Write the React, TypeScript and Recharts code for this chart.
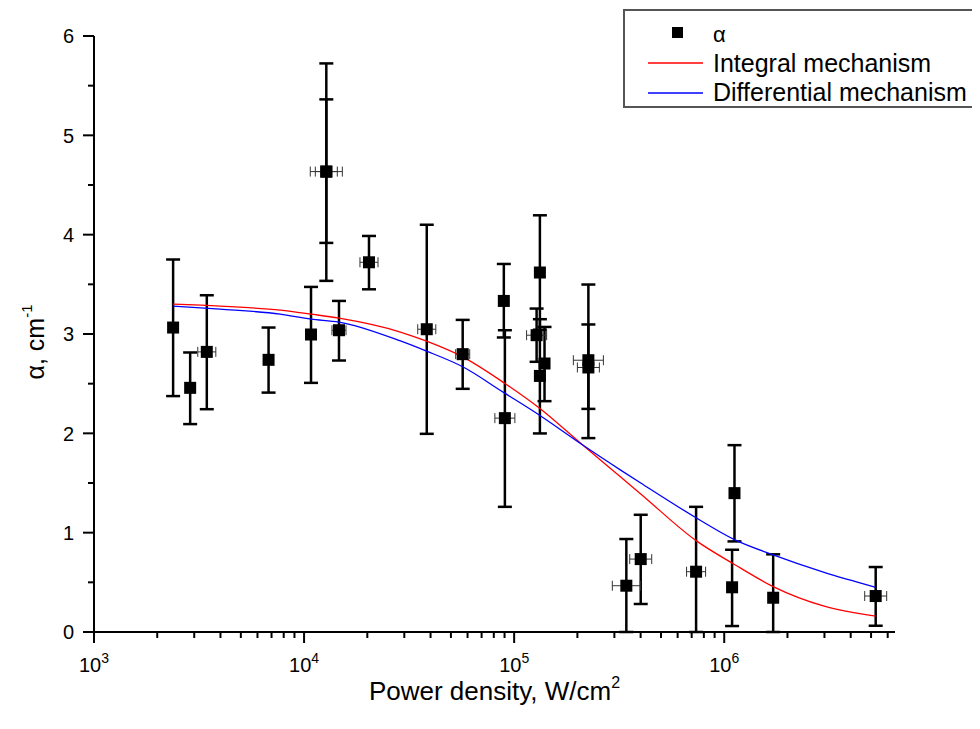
import React from 'react';
import { ComposedChart, XAxis, YAxis, Scatter, Line, ErrorBar } from 'recharts';

// Measured points: power density (W/cm^2) and alpha (cm^-1)
const pointX = [2380, 2869, 3443, 6776, 10790, 14660, 20370, 12760, 12760, 38370, 56890, 89300, 90330, 132600, 127900, 139500, 132600, 225600, 225600, 342000, 400400, 734600, 1119000, 1090000, 1710000, 5260000];
const pointY = [3.065, 2.458, 2.82, 2.74, 2.995, 3.038, 3.722, 4.635, 4.635, 3.048, 2.797, 3.333, 2.153, 3.619, 2.988, 2.703, 2.578, 2.736, 2.663, 0.466, 0.734, 0.607, 1.398, 0.45, 0.345, 0.362];
const yErrLow = [0.69, 0.365, 0.577, 0.33, 0.487, 0.305, 0.272, 1.10, 0.718, 1.053, 0.349, 0.368, 0.893, 0.576, 0.268, 0.379, 0.579, 0.784, 0.417, 0.466, 0.452, 0.607, 0.486, 0.39, 0.345, 0.299];
const yErrHigh = [0.685, 0.356, 0.57, 0.325, 0.479, 0.295, 0.265, 1.089, 0.727, 1.052, 0.345, 0.372, 0.885, 0.576, 0.268, 0.368, 0.571, 0.762, 0.433, 0.47, 0.446, 0.653, 0.483, 0.378, 0.437, 0.292];
// horizontal uncertainty as a multiplicative factor on x (1 = none)
const xErrFactor = [1, 1, 1.104, 1, 1, 1.08, 1.104, 1.192, 1.128, 1.104, 1.08, 1, 1.116, 1, 1.116, 1, 1, 1.179, 1.128, 1.166, 1.128, 1.11, 1, 1.056, 1, 1.128];

// Fitted curves
const curveX = [2380, 3985, 7700, 10790, 14660, 28740, 38000, 56890, 89300, 132600, 211200, 321400, 400400, 734600, 1119000, 1710000, 2990000, 5260000];
const integralY = [3.30, 3.28, 3.24, 3.20, 3.16, 3.02, 2.93, 2.77, 2.51, 2.25, 1.885, 1.56, 1.39, 0.92, 0.68, 0.457, 0.26, 0.16];
const differentialY = [3.28, 3.25, 3.20, 3.15, 3.12, 2.93, 2.83, 2.67, 2.41, 2.18, 1.885, 1.63, 1.50, 1.15, 0.93, 0.776, 0.60, 0.45];

const xMajorTicks = [1000, 10000, 100000, 1000000];
const xMinorTicks = [2000, 3000, 4000, 5000, 6000, 7000, 8000, 9000, 20000, 30000, 40000, 50000, 60000, 70000, 80000, 90000, 200000, 300000, 400000, 500000, 600000, 700000, 800000, 900000, 2000000, 3000000, 4000000, 5000000, 6000000];
const xMajorLabels = ['3', '4', '5', '6'];
const yTicks = [0, 0.5, 1, 1.5, 2, 2.5, 3, 3.5, 4, 4.5, 5, 5.5, 6];

const FONT = '"Liberation Sans", Arial, sans-serif';

const points = pointX.map((x, i) => ({
  x,
  y: pointY[i],
  yErr: [yErrLow[i], yErrHigh[i]],
  xErr: [x - x / xErrFactor[i], x * xErrFactor[i] - x],
}));

const curves = curveX.map((x, i) => ({ x, integral: integralY[i], differential: differentialY[i] }));

const allXTicks = [...xMajorTicks, ...xMinorTicks].sort((a, b) => a - b);

const XTick = (props: any) => {
  const { x, y, payload } = props;
  const idx = xMajorTicks.indexOf(payload.value);
  const major = idx >= 0;
  return (
    <g>
      <line x1={x} y1={y} x2={x} y2={y + (major ? 11 : 6)} stroke="#000" strokeWidth={2} />
      {major && (
        <text x={x} y={y + 40} textAnchor="middle" fontSize={20} fontFamily={FONT} fill="#000">
          10<tspan dy={-9} fontSize={14}>{xMajorLabels[idx]}</tspan>
        </text>
      )}
    </g>
  );
};

const YTick = (props: any) => {
  const { x, y, payload } = props;
  const v = payload.value;
  const major = Number.isInteger(v);
  return (
    <g>
      <line x1={x} y1={y} x2={x - (major ? 11 : 6)} y2={y} stroke="#000" strokeWidth={2} />
      {major && (
        <text x={x - 20} y={y} dy="0.36em" textAnchor="end" fontSize={20} fontFamily={FONT} fill="#000">
          {v}
        </text>
      )}
    </g>
  );
};

const XLabel = (props: any) => {
  const vb = props.viewBox || {};
  const cx = vb.x + vb.width / 2;
  return (
    <text x={cx} y={vb.y + 68} textAnchor="middle" fontSize={26} fontFamily={FONT} fill="#000">
      Power density, W/cm<tspan dy={-12} fontSize={16}>2</tspan>
    </text>
  );
};

const YLabel = (props: any) => {
  const vb = props.viewBox || {};
  const cy = vb.y + vb.height / 2 + 8;
  const cx = 27;
  return (
    <text x={cx} y={cy} transform={`rotate(-90 ${cx} ${cy})`} dy="0.36em" textAnchor="middle" fontSize={25} fontFamily={FONT} fill="#000">
      α, cm<tspan dy={-12} fontSize={15}>-1</tspan>
    </text>
  );
};

const squareShape = (props: any) => {
  const { cx, cy } = props;
  return <rect x={cx - 6} y={cy - 6} width={12} height={12} fill="#000" />;
};

const LegendBox = () => (
  <div
    style={{
      position: 'absolute',
      left: 615,
      top: 1,
      width: 356,
      height: 99,
      border: '2px solid #555',
      boxSizing: 'border-box',
      background: '#fff',
    }}
  >
    <svg width={352} height={95} style={{ display: 'block' }}>
      <rect x={47} y={16} width={11} height={11} fill="#000" />
      <text x={88} y={23} dy="0.36em" fontSize={22} fontFamily={FONT} fill="#000">α</text>
      <line x1={23} x2={78} y1={52} y2={52} stroke="#ff0000" strokeWidth={1.3} />
      <text x={88} y={52} dy="0.36em" fontSize={25} fontFamily={FONT} fill="#000">Integral mechanism</text>
      <line x1={23} x2={78} y1={82} y2={82} stroke="#0000ff" strokeWidth={1.3} />
      <text x={88} y={81} dy="0.36em" fontSize={25} fontFamily={FONT} fill="#000">Differential mechanism</text>
    </svg>
  </div>
);

export default function App() {
  return (
    <div style={{ position: 'relative', width: 972, height: 715 }}>
      <ComposedChart width={972} height={715} margin={{ top: 28, right: 85, bottom: 0, left: 0 }}>
        <XAxis
          dataKey="x"
          type="number"
          scale="log"
          domain={[1000, 6500000]}
          allowDataOverflow
          ticks={allXTicks}
          interval={0}
          tick={<XTick />}
          tickLine={false}
          tickSize={0}
          tickMargin={0}
          height={91}
          axisLine={{ stroke: '#000', strokeWidth: 2 }}
          label={{ content: XLabel }}
        />
        <YAxis
          type="number"
          domain={[0, 6]}
          allowDataOverflow
          ticks={yTicks}
          interval={0}
          tick={<YTick />}
          tickLine={false}
          tickSize={0}
          tickMargin={0}
          width={86}
          axisLine={{ stroke: '#000', strokeWidth: 2 }}
          label={{ content: YLabel }}
        />
        <Scatter data={points} dataKey="y" shape={squareShape} isAnimationActive={false}>
          <ErrorBar dataKey="yErr" direction="y" width={7} stroke="#000" strokeWidth={2.5} isAnimationActive={false} />
          <ErrorBar dataKey="xErr" direction="x" width={5} stroke="#333" strokeWidth={1} isAnimationActive={false} />
        </Scatter>
        <Line data={curves} dataKey="integral" type="monotone" stroke="#ff0000" strokeWidth={1.3} dot={false} activeDot={false} isAnimationActive={false} />
        <Line data={curves} dataKey="differential" type="monotone" stroke="#0000ff" strokeWidth={1.3} dot={false} activeDot={false} isAnimationActive={false} />
      </ComposedChart>
      <LegendBox />
    </div>
  );
}
